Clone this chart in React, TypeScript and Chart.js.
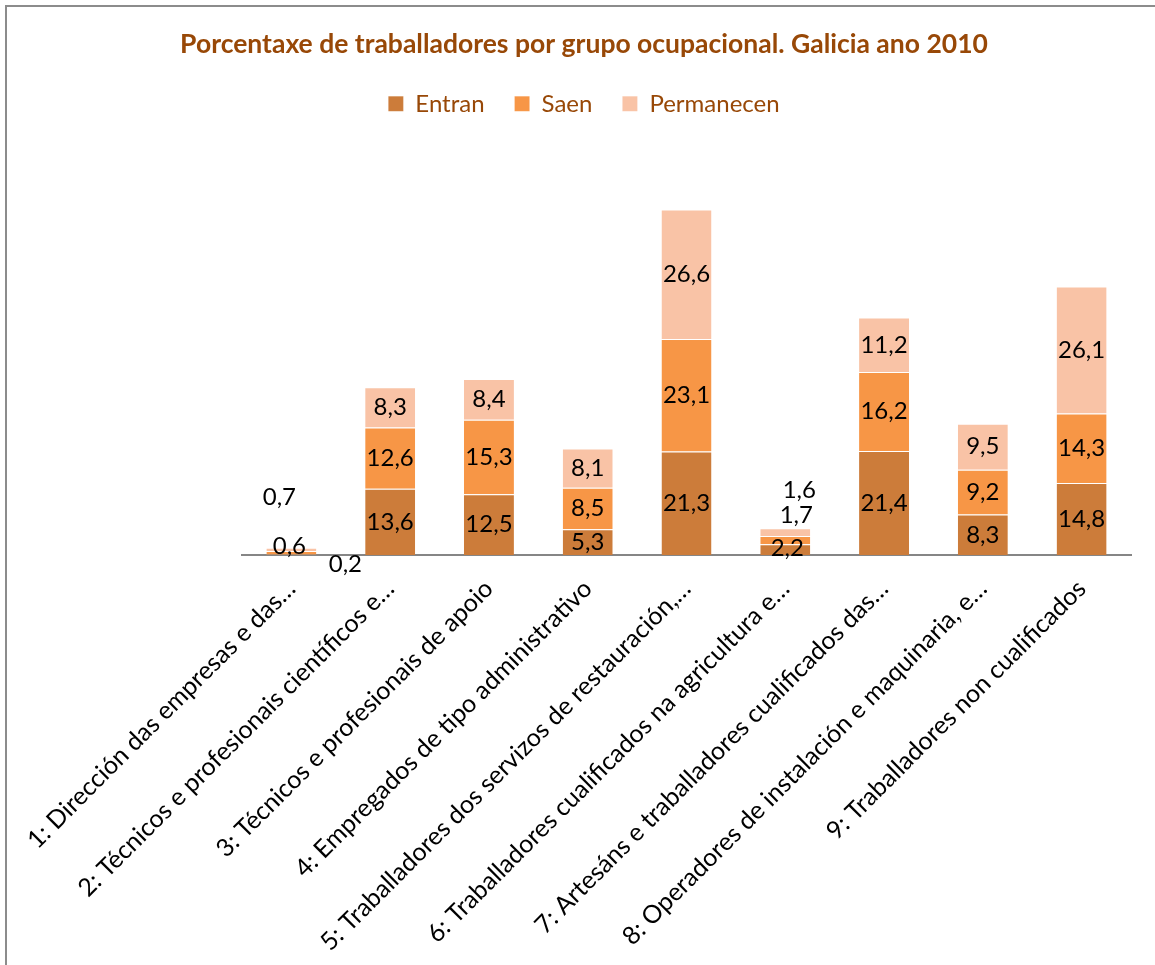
import React, { useEffect, useRef } from "react";
import { Chart, registerables } from "chart.js";

Chart.register(...registerables);

const categories = [
  "1: Dirección das empresas e das…",
  "2: Técnicos e profesionais científicos e…",
  "3: Técnicos e profesionais de apoio",
  "4: Empregados de tipo administrativo",
  "5: Traballadores dos servizos de restauración,…",
  "6: Traballadores cualificados na agricultura e…",
  "7: Artesáns e traballadores cualificados das…",
  "8: Operadores de instalación e maquinaria, e…",
  "9: Traballadores non cualificados",
];

const entran = [0.2, 13.6, 12.5, 5.3, 21.3, 2.2, 21.4, 8.3, 14.8];
const saen = [0.6, 12.6, 15.3, 8.5, 23.1, 1.7, 16.2, 9.2, 14.3];
const permanecen = [0.7, 8.3, 8.4, 8.1, 26.6, 1.6, 11.2, 9.5, 26.1];

const seriesNames = ["Entran", "Saen", "Permanecen"];
const seriesColors = ["#CC7C3A", "#F79646", "#F9C3A6"];

const TITLE = "Porcentaxe de traballadores por grupo ocupacional. Galicia ano 2010";
const BROWN = "#984807";
const FONT = "Lato, 'Open Sans', sans-serif";

// manual nudges for labels of the tiny segments (datasetIndex-index -> [dx, dy])
const labelNudges: Record<string, [number, number]> = {
  "0-0": [54, 10],
  "1-0": [-2, -6],
  "2-0": [-12, -52],
  "0-5": [2, -1],
  "1-5": [11, -25],
  "2-5": [14, -42],
};

const legendSpacer = {
  id: "legendSpacer",
  beforeInit(chart: any) {
    const legend = chart.legend;
    if (!legend) return;
    const orig = legend.fit;
    legend.fit = function () {
      orig.call(this);
      this.height += 40;
    };
  },
};

const valueLabels = {
  id: "valueLabels",
  afterDatasetsDraw(chart: any) {
    const ctx = chart.ctx;
    ctx.save();
    ctx.font = `24px ${FONT}`;
    ctx.fillStyle = "#000000";
    ctx.textAlign = "center";
    ctx.textBaseline = "middle";
    chart.data.datasets.forEach((ds: any, di: number) => {
      const meta = chart.getDatasetMeta(di);
      meta.data.forEach((el: any, i: number) => {
        const v = ds.data[i];
        const nudge = labelNudges[`${di}-${i}`] || [0, 0];
        const x = el.x + nudge[0];
        const y = (el.y + el.base) / 2 + nudge[1];
        ctx.fillText(String(v.toFixed(1)).replace(".", ","), x, y);
      });
    });
    ctx.restore();
  },
};

export default function App() {
  const ref = useRef<HTMLCanvasElement>(null);

  useEffect(() => {
    if (!ref.current) return;
    const data = [entran, saen, permanecen];
    const chart = new Chart(ref.current, {
      type: "bar",
      data: {
        labels: categories,
        datasets: seriesNames.map((name, k) => ({
          label: name,
          data: data[k],
          backgroundColor: seriesColors[k],
          borderColor: "rgba(255,255,255,0.45)",
          borderWidth: { top: 1, left: 0, right: 0, bottom: 0 },
          borderSkipped: false,
          barPercentage: 1,
          categoryPercentage: 0.506,
        })),
      },
      options: {
        responsive: false,
        animation: false,
        layout: { padding: { left: 37, right: 24, top: 20, bottom: 0 } },
        plugins: {
          title: {
            display: true,
            text: TITLE,
            color: BROWN,
            font: { family: FONT, size: 26.5, weight: "bold" },
            padding: { top: 9, bottom: 1 },
          },
          legend: {
            display: true,
            labels: {
              color: BROWN,
              font: { family: FONT, size: 24 },
              boxWidth: 15,
              boxHeight: 15,
              padding: 30,
            },
          },
          tooltip: { enabled: false },
        },
        scales: {
          x: {
            stacked: true,
            grid: { display: false },
            border: { display: true, color: "#868686", width: 2 },
            ticks: {
              color: "#000000",
              font: { family: FONT, size: 25 },
              minRotation: 45,
              maxRotation: 45,
              autoSkip: false,
              padding: 11,
            },
            afterFit: (s: any) => {
              s.height = 410;
            },
          },
          y: {
            stacked: true,
            min: 0,
            max: 80,
            grid: { display: false },
            border: { display: false },
            ticks: { display: false },
            afterFit: (s: any) => {
              s.width = 205;
            },
          },
        },
      },
      plugins: [legendSpacer, valueLabels],
    } as any);
    return () => chart.destroy();
  }, []);

  return (
    <div
      style={{
        position: "fixed",
        left: 0,
        top: 0,
        width: 1155,
        height: 965,
        overflow: "hidden",
        background: "#ffffff",
      }}
    >
      <div
        style={{
          position: "absolute",
          left: 5,
          top: 5,
          width: 1300,
          height: 1100,
          border: "2px solid #8c8c8c",
        }}
      />
      <canvas
        ref={ref}
        width={1155}
        height={965}
        style={{ position: "absolute", left: 0, top: 0, width: 1155, height: 965 }}
      />
    </div>
  );
}
